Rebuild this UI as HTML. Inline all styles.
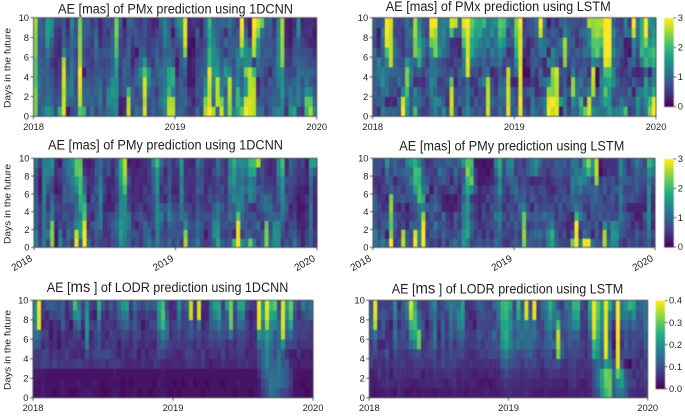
<!DOCTYPE html>
<html lang="en">
<head>
<meta charset="utf-8">
<title>AE heatmaps</title>
<style>
html,body{margin:0;padding:0;background:#fff;width:685px;height:416px;overflow:hidden}
svg{display:block;position:absolute;left:0;top:0}
text{font-family:"Liberation Sans",sans-serif;fill:#1f1f1f}
.ttl{font-size:13.5px}
.big{font-size:16px}
.tick{font-size:9.4px}
.rot{font-size:10px}
</style>
</head>
<body>
<svg id="fig" width="685" height="416" viewBox="0 0 685 416">
<g id="marks" style="filter:blur(0.45px)"></g>
<g id="labels" style="filter:blur(0.25px)">
<text class="ttl" x="58" y="13.5" textLength="235" lengthAdjust="spacingAndGlyphs">AE [mas] of PMx prediction using 1DCNN</text>
<text class="ttl" x="385.7" y="11" textLength="225" lengthAdjust="spacingAndGlyphs">AE [mas] of PMx prediction using LSTM</text>
<text class="ttl" x="48" y="149.5" textLength="235" lengthAdjust="spacingAndGlyphs">AE [mas] of PMy prediction using 1DCNN</text>
<text class="ttl" x="399.3" y="150.7" textLength="225" lengthAdjust="spacingAndGlyphs">AE [mas] of PMy prediction using LSTM</text>
<text class="ttl" x="46.7" y="292" textLength="241.6" lengthAdjust="spacingAndGlyphs">AE [<tspan class="big">ms</tspan> ] of LODR prediction using 1DCNN</text>
<text class="ttl" x="391.7" y="293.3" textLength="231.6" lengthAdjust="spacingAndGlyphs">AE [<tspan class="big">ms</tspan> ] of LODR prediction using LSTM</text>
<text class="tick" transform="translate(10.5,108) rotate(-90)" textLength="80" lengthAdjust="spacingAndGlyphs">Days in the future</text>
<text class="tick" transform="translate(10.5,244) rotate(-90)" textLength="80" lengthAdjust="spacingAndGlyphs">Days in the future</text>
<text class="tick" transform="translate(10.5,390) rotate(-90)" textLength="80" lengthAdjust="spacingAndGlyphs">Days in the future</text>
</g>
</svg>
<script>
const xTickLabels = ["2018", "2019", "2020"];
const yTickLabels = [0, 2, 4, 6, 8, 10];
const masColorbarTicks = [0, 1, 2, 3];
const msColorbarTicks = ["0.0", "0.1", "0.2", "0.3", "0.4"];
// Each inner array is one time column, day 0 (bottom) to day 9 (top).
// PMx and PMy values are tenths of a mas; LODR values are hundredths of a ms.
const pmxCnnValues = [
[24,24,24,22,22,22,24,24,25,26],[8,9,10,11,10,9,8,8,9,10],[12,9,8,8,9,8,7,8,9,8],[16,12,10,10,9,10,12,16,17,17],[14,10,9,8,7,5,8,10,14,15],[7,7,6,5,4,3,4,5,5,7],[19,9,7,6,5,5,3,3,4,6],[28,28,27,28,28,26,14,9,9,8],[2,10,12,10,7,6,8,6,4,3],[6,9,13,13,12,12,10,10,12,14],
[8,8,7,6,8,7,6,9,7,7],[22,27,28,29,30,26,25,25,24,24],[20,10,9,8,2,8,7,8,9,8],[6,9,10,8,7,6,5,7,8,9],[12,10,8,7,6,5,6,5,6,5],[6,8,10,9,8,9,10,12,10,7],[10,12,12,10,8,7,7,4,3,3],[8,6,6,6,7,6,8,6,6,6],[11,14,13,9,8,7,8,7,5,8],[12,14,16,14,10,9,10,9,9,7],
[14,14,15,15,16,18,21,22,24,24],[2,3,6,6,5,6,7,6,8,10],[4,3,8,9,10,9,6,5,4,2],[27,26,20,8,8,9,10,9,8,10],[6,8,9,7,5,3,4,5,7,9],[12,8,6,10,9,7,2,8,8,6],[9,7,9,12,14,10,9,7,6,5],[28,26,28,28,22,16,9,7,8,8],[6,7,10,14,15,7,5,5,5,5],[10,9,8,9,7,5,7,6,4,3],
[8,7,5,8,9,10,9,8,6,3],[9,12,10,10,12,8,6,7,8,10],[13,15,13,12,11,11,10,12,14,13],[27,26,20,18,18,12,9,10,10,9],[27,26,13,19,19,9,8,6,2,6],[9,8,7,6,3,2,5,8,10,13],[10,9,10,9,8,9,8,9,14,16],[8,10,9,7,9,12,24,28,29,29],[5,7,4,2,2,2,1,2,3,3],[5,3,4,2,3,3,2,1,3,5],
[11,6,9,8,6,7,5,7,9,4],[6,8,7,8,9,7,6,5,3,3],[26,24,16,14,10,9,9,7,10,10],[30,28,27,28,29,20,20,17,18,20],[26,10,12,14,16,14,14,13,12,10],[10,27,27,27,16,14,13,10,9,9],[28,24,13,12,10,9,8,6,8,10],[12,11,9,13,16,12,5,10,4,9],[25,26,27,27,14,10,9,8,10,12],[13,10,9,10,8,7,9,9,7,8],
[18,20,20,13,12,14,12,9,8,5],[22,16,10,9,10,13,20,27,29,30],[30,28,16,16,24,14,15,13,10,6],[28,28,27,27,27,14,13,7,2,2],[27,27,27,26,20,5,26,28,29,30],[11,8,4,3,10,11,14,16,24,27],[11,8,9,7,9,9,8,9,11,23],[5,7,7,5,6,8,9,8,8,9],[8,9,7,9,3,7,9,8,9,10],[12,10,9,8,9,8,7,7,5,4],
[14,9,10,12,13,14,13,14,13,13],[13,14,16,15,15,24,25,25,26,26],[4,6,9,8,7,5,5,3,3,3],[15,12,12,8,6,5,4,2,2,2],[18,11,9,10,6,9,8,7,5,4],[6,13,13,12,11,10,8,9,14,15],[5,8,9,7,10,9,7,6,4,3],[20,22,15,12,10,8,7,4,4,4],[26,22,14,8,9,6,6,3,5,4],[14,11,8,6,8,7,4,3,2,3]
];
const pmxLstmValues = [
[7,8,10,9,10,9,11,7,8,9],[4,9,7,10,12,14,5,3,2,7],[13,10,11,15,13,9,9,11,13,9],[10,3,12,11,11,14,21,29,30,30],[9,4,7,8,10,27,27,27,27,28],[10,3,8,6,10,9,11,10,6,7],[8,10,5,11,9,7,9,6,6,6],[30,28,14,8,8,7,5,5,5,7],[15,17,21,24,24,16,8,10,10,11],[8,9,7,12,13,11,7,9,11,7],
[21,12,14,4,7,10,24,24,26,26],[8,11,9,5,10,19,20,18,16,14],[5,8,6,4,6,9,12,13,9,8],[6,5,8,7,9,5,7,9,6,7],[10,11,13,14,11,12,14,23,28,30],[13,14,10,12,12,11,24,24,26,30],[8,13,7,5,9,8,15,13,12,12],[15,9,7,6,8,7,11,13,14,13],[7,4,5,8,6,5,9,9,10,12],[27,28,27,22,8,4,5,4,21,28],
[9,6,7,3,5,7,5,4,9,27],[3,10,7,8,9,6,3,3,9,9],[11,8,8,6,12,13,14,21,25,29],[14,13,12,11,28,29,28,28,29,30],[10,5,8,4,7,12,18,18,21,23],[7,9,4,5,8,10,13,16,17,19],[9,6,7,10,5,8,11,13,18,18],[7,8,6,13,9,10,12,11,13,20],[28,27,27,26,11,7,8,13,11,12],[7,10,8,7,3,9,13,9,15,13],
[6,8,5,4,5,9,10,12,11,15],[11,9,12,10,8,12,14,18,21,22],[8,10,11,9,5,6,11,15,19,21],[29,28,28,27,27,8,4,9,6,12],[8,10,9,3,7,6,5,8,11,9],[10,7,6,3,11,15,19,21,23,24],[29,30,28,28,29,28,29,29,28,30],[8,5,6,3,1,2,4,7,6,5],[5,4,9,3,1,4,3,3,7,7],[13,12,10,5,9,8,9,5,8,8],
[10,7,4,3,5,9,7,8,10,11],[8,10,5,10,10,6,11,13,27,30],[12,12,7,11,4,3,12,11,9,12],[30,29,25,14,5,13,3,9,6,2],[27,30,24,24,25,12,14,6,9,7],[29,28,27,27,28,9,10,8,8,4],[2,16,5,6,8,4,9,12,5,9],[13,12,10,9,8,24,25,26,13,11],[6,4,8,3,5,6,9,9,10,8],[11,15,25,25,13,9,7,10,7,8],
[9,11,12,10,6,7,9,4,5,7],[17,20,9,12,9,6,8,6,10,6],[23,5,10,7,9,8,12,9,11,8],[28,28,13,9,4,7,11,14,13,26],[15,10,26,27,28,14,20,22,24,25],[13,9,7,1,1,13,23,22,26,26],[11,13,12,14,11,10,17,21,24,26],[12,18,22,17,21,29,30,30,30,30],[17,16,16,18,21,28,30,30,30,30],[12,7,9,14,14,10,14,11,14,9],
[13,8,7,9,6,9,10,8,8,6],[14,12,7,6,4,5,8,9,6,5],[21,9,7,6,5,3,3,2,11,13],[5,8,11,5,8,9,2,3,10,5],[7,8,3,9,4,10,12,14,27,30],[14,15,11,6,3,5,7,9,10,11],[9,10,13,5,4,13,20,19,19,19],[12,14,16,17,9,20,18,24,30,30],[24,20,13,9,3,17,19,15,13,15],[30,29,19,14,13,19,21,18,16,14]
];
const pmyCnnValues = [
[14,13,10,9,10,9,8,7,9,12],[6,5,4,5,5,3,2,2,3,5],[13,12,12,12,12,13,14,13,13,13],[6,12,7,8,5,5,8,11,13,13],[24,24,23,13,12,10,7,8,13,15],[2,2,3,5,6,5,2,3,4,4],[14,12,7,5,6,4,3,5,6,2],[7,4,5,8,7,9,9,7,8,10],[9,11,8,7,6,9,8,10,12,12],[5,8,8,6,7,10,11,13,12,15],
[29,27,14,11,10,9,14,17,22,22],[9,16,16,13,18,19,21,21,23,22],[30,30,28,22,20,16,11,9,5,3],[10,6,4,5,6,2,3,4,3,2],[5,5,8,3,6,8,5,4,4,3],[8,9,10,9,7,6,9,7,9,8],[6,8,12,13,12,14,13,13,10,11],[6,4,4,4,3,5,6,5,5,6],[5,4,6,6,3,2,3,3,8,8],[7,8,9,7,3,4,4,3,3,4],
[8,9,11,9,8,5,6,7,9,7],[15,17,16,14,14,14,14,17,18,19],[12,13,14,14,14,15,21,24,26,27],[10,9,12,12,7,6,5,7,5,2],[5,8,5,5,3,4,3,3,3,3],[7,7,3,7,5,4,4,4,3,2],[4,5,6,8,6,3,3,3,4,3],[9,9,10,6,3,5,6,3,3,4],[13,10,7,4,5,6,4,5,6,5],[8,5,7,7,7,7,9,9,10,14],
[13,13,14,14,14,13,15,15,16,21],[9,8,10,13,9,5,4,6,8,11],[7,6,5,7,8,3,6,4,3,6],[11,8,10,14,11,9,8,9,8,8],[6,8,9,9,7,5,3,4,5,4],[9,8,7,8,6,4,3,4,4,7],[5,8,7,11,11,13,14,12,15,16],[26,24,15,11,6,5,5,5,4,4],[7,6,8,6,6,3,4,4,5,3],[9,7,7,5,4,5,4,4,4,3],
[13,10,11,9,8,7,9,7,9,12],[6,8,8,7,6,5,8,8,7,9],[5,2,5,8,5,4,3,4,4,5],[6,6,6,7,5,8,6,4,3,4],[9,14,13,10,9,6,5,5,7,5],[18,16,15,12,12,8,6,7,10,12],[9,6,7,7,9,6,8,5,7,6],[7,5,8,6,5,5,4,5,4,4],[8,7,7,11,9,10,12,14,12,14],[20,3,7,9,9,14,13,16,17,19],
[30,29,29,22,14,13,11,11,11,14],[15,5,9,10,13,13,13,11,13,15],[12,9,8,7,8,7,11,9,12,13],[23,9,6,8,5,14,14,13,18,20],[13,6,8,8,4,11,12,11,18,21],[5,7,11,5,7,6,9,5,6,27],[9,8,4,6,9,10,8,7,8,7],[24,24,22,9,11,11,6,5,4,5],[10,8,7,10,11,9,6,5,3,3],[15,15,14,9,6,5,5,4,4,4],
[15,15,14,9,6,9,9,11,14,14],[5,7,9,12,13,14,15,15,19,21],[8,5,4,7,9,8,5,7,4,3],[6,8,7,4,3,6,7,7,9,10],[12,9,7,6,5,4,5,6,6,8],[7,5,3,2,2,2,3,4,5,5],[3,3,3,3,2,3,3,5,5,7],[7,6,4,5,3,5,2,3,3,2],[9,10,11,11,12,9,10,11,13,17],[4,5,3,3,3,3,4,4,8,17]
];
const pmyLstmValues = [
[12,14,9,8,10,9,6,4,7,7],[9,7,5,6,7,5,3,4,7,8],[13,10,8,7,4,5,6,5,4,6],[8,2,9,7,5,3,6,9,12,16],[30,24,22,23,25,24,9,8,6,8],[5,7,9,8,5,7,6,3,9,10],[7,4,5,6,3,7,8,6,8,7],[27,26,7,5,6,9,5,7,9,6],[9,8,3,4,2,7,8,9,11,14],[7,6,10,5,6,8,9,13,10,16],
[30,28,9,7,8,9,17,20,21,19],[12,13,9,11,12,21,21,19,20,14],[30,30,29,25,13,18,12,10,9,8],[8,5,7,5,9,3,11,8,6,4],[5,8,6,9,8,7,2,5,6,5],[7,9,12,6,11,9,8,6,5,8],[4,6,8,5,8,6,5,7,12,8],[9,10,8,11,3,3,4,9,9,7],[5,7,6,5,3,2,5,7,7,9],[9,6,4,3,2,3,8,3,5,9],
[11,7,8,9,3,2,6,8,11,7],[8,9,5,6,4,5,3,5,6,10],[16,15,13,12,13,9,12,9,8,16],[13,18,16,15,16,15,18,20,25,22],[6,9,10,7,9,5,14,23,19,21],[7,5,7,5,5,4,8,5,5,2],[9,7,4,3,3,3,3,2,2,2],[6,3,5,7,7,3,5,2,2,1],[8,7,6,5,3,7,4,3,1,2],[6,4,7,6,8,5,6,3,3,2],
[11,9,8,12,8,8,9,6,10,14],[9,10,12,13,10,11,15,14,18,19],[5,7,5,8,4,6,7,6,7,7],[4,6,8,5,7,4,5,8,12,13],[7,5,6,9,7,6,9,10,12,14],[9,8,9,7,5,9,11,9,5,6],[6,5,7,9,11,8,7,5,7,7],[24,25,23,23,13,9,8,7,6,5],[9,7,5,9,7,5,6,5,9,9],[8,9,6,8,3,9,7,3,11,12],
[8,10,8,9,9,6,5,4,13,15],[9,11,7,8,6,5,7,4,7,10],[6,8,7,11,7,7,7,5,6,6],[13,14,10,9,7,5,4,3,4,7],[18,19,13,10,7,5,3,5,7,6],[10,9,7,5,5,8,5,7,8,9],[7,5,6,8,9,6,7,7,9,8],[6,8,5,7,5,8,7,5,7,9],[5,3,3,5,7,7,4,5,7,6],[23,7,4,3,9,10,12,13,10,12],
[30,29,30,20,12,9,10,12,12,12],[12,4,6,13,10,8,12,15,11,7],[29,11,8,9,5,7,8,13,14,18],[29,9,8,4,5,6,9,10,20,25],[11,3,6,8,9,9,9,6,14,16],[8,9,9,7,7,10,11,25,27,27],[7,5,4,9,8,8,6,5,1,2],[26,26,15,6,7,5,9,8,3,4],[10,7,9,8,6,7,5,6,5,4],[14,16,15,6,7,9,8,8,4,4],
[14,15,13,7,5,5,9,5,5,5],[6,9,10,12,11,13,12,10,14,14],[4,7,8,9,6,8,6,9,9,8],[8,5,7,7,3,7,6,9,5,4],[6,5,3,5,3,8,7,7,6,8],[8,9,6,2,3,6,9,9,10,13],[5,6,3,3,3,5,6,7,8,9],[7,7,6,9,3,4,5,7,8,6],[10,12,14,14,15,14,15,12,15,20],[5,7,3,5,3,4,6,8,13,17]
];
const lodrCnnValues = [
[2,3,3,7,7,12,15,17,19,18],[2,2,3,6,6,10,14,38,38,39],[3,3,3,8,8,5,8,4,7,7],[2,2,2,7,9,7,8,6,4,11],[2,2,2,6,5,4,2,3,9,12],[1,2,2,9,7,5,6,6,8,11],[2,2,2,6,5,2,3,5,9,9],[3,3,2,7,6,6,7,12,11,13],[2,2,2,6,8,5,4,6,4,5],[1,2,2,6,5,7,5,2,8,10],
[1,2,2,7,4,6,8,11,20,28],[2,3,2,8,5,5,9,15,20,17],[3,2,2,6,4,6,3,5,8,8],[3,2,2,6,10,17,20,21,21,19],[3,2,2,5,6,5,4,9,5,8],[2,3,2,6,8,7,8,7,3,6],[2,2,2,6,9,10,11,14,21,25],[1,1,2,7,8,5,6,5,6,11],[1,2,2,5,10,7,4,7,4,6],[2,2,2,7,8,6,8,6,8,12],
[3,2,3,7,6,7,7,5,7,7],[2,2,2,7,4,3,6,9,12,14],[1,1,2,5,6,7,9,12,16,21],[2,2,2,4,4,6,8,14,17,22],[2,1,2,4,6,5,6,8,5,7],[3,2,2,5,7,8,9,12,11,15],[1,2,2,4,3,5,8,7,6,10],[2,2,2,6,6,4,5,2,6,8],[2,2,2,5,4,6,7,5,8,12],[1,2,2,4,6,5,6,9,7,10],
[2,1,2,7,6,4,7,9,6,12],[2,3,2,6,9,10,12,19,20,22],[3,2,3,5,8,13,18,26,29,27],[2,2,2,4,6,9,14,15,11,8],[1,2,2,4,6,7,5,6,5,4],[2,1,2,5,5,6,7,8,4,6],[1,2,2,5,4,7,9,12,16,20],[2,1,2,4,5,6,6,8,7,9],[2,2,2,6,8,7,9,8,9,12],[2,3,2,7,8,7,11,13,36,36],
[2,1,2,6,6,5,8,7,5,6],[2,2,2,5,5,8,9,15,37,37],[1,2,2,7,8,5,6,4,3,5],[2,1,2,4,4,6,7,6,4,4],[2,2,2,3,6,8,10,12,13,15],[2,2,2,4,6,7,9,13,18,22],[2,2,2,4,5,8,12,17,22,23],[2,1,2,6,9,8,10,11,9,7],[2,2,2,5,4,5,9,10,11,22],[2,2,2,4,6,7,16,30,31,31],
[1,2,2,4,6,5,7,8,7,9],[2,3,2,6,7,8,9,14,17,22],[2,2,2,5,7,8,9,13,19,24],[2,2,2,6,4,6,7,8,6,10],[1,2,2,5,5,4,5,4,3,7],[2,2,2,4,5,6,5,7,5,6],[3,3,5,8,9,14,21,38,39,39],[7,8,11,13,13,14,18,15,22,20],[10,11,14,18,18,20,22,34,38,39],[15,16,15,13,13,15,18,18,24,27],
[13,15,14,12,9,11,11,18,23,30],[11,15,16,16,15,13,14,14,11,8],[8,13,13,10,11,21,36,38,38,38],[8,11,11,11,6,9,12,14,19,22],[5,7,7,5,3,9,15,24,29,31],[2,2,3,4,3,8,9,8,9,12],[2,2,2,3,6,5,7,8,5,7],[2,1,2,4,3,6,8,7,9,17],[1,2,2,4,4,6,7,9,11,12],[2,2,2,4,3,6,6,7,13,15]
];
const lodrLstmValues = [
[3,4,3,8,8,7,10,12,11,10],[2,3,4,5,9,12,16,35,38,39],[3,4,7,6,6,4,8,5,9,7],[3,5,4,5,7,4,10,12,11,8],[4,6,6,7,11,7,5,6,9,7],[3,5,3,5,4,5,5,3,7,8],[2,4,6,7,9,13,16,14,17,19],[5,5,6,6,7,8,8,5,8,4],[3,4,5,7,6,8,10,9,10,12],[2,4,5,5,6,9,7,11,15,17],
[2,3,5,5,7,14,21,26,35,38],[3,3,6,7,9,18,24,28,27,25],[2,4,6,7,10,30,31,15,14,9],[3,4,3,7,6,6,9,11,8,7],[3,5,5,6,8,7,5,3,6,7],[3,4,4,6,9,10,8,8,12,13],[2,5,6,8,9,14,17,15,14,19],[3,5,5,6,5,6,4,5,8,7],[3,4,5,9,9,11,13,13,10,9],[3,3,6,7,7,6,7,6,7,13],
[3,5,6,8,9,11,14,14,16,17],[4,6,5,8,8,6,9,11,13,15],[3,3,4,6,8,10,13,17,18,14],[3,4,5,6,9,11,14,19,21,23],[2,3,5,5,6,6,8,6,7,5],[3,4,4,6,5,7,6,6,4,6],[3,4,3,5,5,7,7,3,5,8],[3,3,4,5,7,9,11,9,9,12],[3,2,4,5,8,6,9,8,10,11],[4,3,3,6,7,9,7,8,8,8],
[3,2,5,5,9,8,10,7,9,7],[3,3,4,5,9,10,14,9,7,14],[3,4,4,6,8,10,9,13,15,16],[4,5,7,12,15,20,22,23,25,26],[5,6,9,13,18,24,25,24,26,27],[5,5,7,10,13,18,18,20,19,24],[4,5,6,9,11,13,11,13,9,8],[4,5,6,8,9,15,14,16,24,26],[4,4,5,6,9,13,16,14,12,10],[5,5,6,9,11,14,14,17,37,38],
[4,5,7,8,13,15,14,13,11,9],[3,4,6,9,9,12,15,15,38,39],[3,5,6,7,6,9,10,8,6,7],[3,4,4,5,8,9,7,8,13,14],[4,4,5,9,9,12,12,16,14,17],[3,5,7,8,11,13,15,18,22,25],[3,4,6,9,6,14,9,14,16,18],[3,4,6,11,32,35,36,28,17,9],[3,4,5,7,12,12,9,11,9,7],[3,3,5,5,7,8,9,12,11,16],
[4,5,6,7,8,11,13,14,15,15],[4,6,7,8,9,9,12,18,22,26],[3,4,5,6,8,10,13,20,24,26],[4,3,6,5,7,8,6,7,6,9],[3,3,4,6,5,6,5,6,8,6],[4,5,5,7,9,9,13,17,21,24],[8,9,10,11,24,27,36,38,39,39],[10,14,15,14,19,22,25,27,29,30],[20,22,24,13,12,14,16,18,20,22],[27,30,31,22,38,39,39,39,38,39],
[30,31,30,19,15,14,11,14,16,25],[12,13,14,10,5,2,3,5,11,13],[15,19,30,38,39,39,40,40,40,40],[15,22,23,10,8,5,7,11,16,16],[12,13,11,3,9,12,11,14,17,20],[6,8,8,1,8,7,8,10,15,26],[5,8,5,7,9,11,9,14,20,24],[4,5,7,4,7,8,9,11,10,12],[4,6,6,8,5,7,9,9,12,14],[6,7,9,7,9,12,13,16,15,15]
];
const viridisStops = ["#440154", "#482475", "#414487", "#355f8d", "#2a788e", "#21918c", "#22a884", "#44bf70", "#7ad151", "#bddf26", "#fde725"];

const svgNs = "http://www.w3.org/2000/svg";
const marksLayer = document.getElementById("marks");
const labelsLayer = document.getElementById("labels");

function hexChannel(hex, i) { return parseInt(hex.substr(1 + i * 2, 2), 16); }
function viridis(t) {
  const c = Math.max(0, Math.min(1, t)) * (viridisStops.length - 1);
  const lo = Math.min(Math.floor(c), viridisStops.length - 2);
  const f = c - lo;
  const rgb = [0, 1, 2].map(function (i) {
    return Math.round(hexChannel(viridisStops[lo], i) * (1 - f) + hexChannel(viridisStops[lo + 1], i) * f);
  });
  return "rgb(" + rgb.join(",") + ")";
}
function node(tag, parent) {
  const el = document.createElementNS(svgNs, tag);
  parent.appendChild(el);
  return el;
}
function tickLine(x1, y1, x2, y2) {
  const el = node("line", marksLayer);
  el.setAttribute("x1", x1);
  el.setAttribute("y1", y1);
  el.setAttribute("x2", x2);
  el.setAttribute("y2", y2);
  el.setAttribute("stroke", "#333");
  el.setAttribute("stroke-width", "0.8");
  
  
}
function drawHeatmap(key, columns, vmax, box, rotated) {
  const x0 = box[0], x1 = box[1], y0 = box[2], y1 = box[3];
  const xScale = function (i) { return x0 + (x1 - x0) * i / columns.length; };
  const yScale = function (d) { return y1 - (y1 - y0) * d / 10; };
  const xTickScale = function (i) { return x0 + (x1 - x0) * i / (xTickLabels.length - 1); };
  columns.forEach(function (col, i) {
    col.forEach(function (v, d) {
      const r = node("rect", marksLayer);
      r.setAttribute("x", xScale(i));
      r.setAttribute("y", yScale(d + 1));
      r.setAttribute("width", xScale(i + 1) - xScale(i) + 0.3);
      r.setAttribute("height", yScale(d) - yScale(d + 1) + 0.3);
      r.setAttribute("fill", viridis(v / vmax));
      
      
    });
  });
  const frame = node("rect", marksLayer);
  frame.setAttribute("x", x0);
  frame.setAttribute("y", y0);
  frame.setAttribute("width", x1 - x0);
  frame.setAttribute("height", y1 - y0);
  frame.setAttribute("fill", "none");
  frame.setAttribute("stroke", "#3a3a3a");
  frame.setAttribute("stroke-width", "0.8");
  
  
  yTickLabels.forEach(function (d) {
    const y = yScale(d);
    tickLine(x0 - 3, y, x0, y);
    const t = node("text", labelsLayer);
    t.setAttribute("class", "tick");
    t.setAttribute("x", x0 - 4.5);
    t.setAttribute("y", y + 3.4);
    t.setAttribute("text-anchor", "end");
    
    
    t.textContent = d;
  });
  xTickLabels.forEach(function (label, i) {
    const x = xTickScale(i);
    tickLine(x, y1, x, y1 + 3);
    const t = node("text", labelsLayer);
    if (rotated) {
      t.setAttribute("class", "rot");
      t.setAttribute("text-anchor", "end");
      t.setAttribute("transform", "translate(" + (x - 1) + "," + (y1 + 13) + ") rotate(-30)");
    } else {
      t.setAttribute("class", "tick");
      t.setAttribute("text-anchor", "middle");
      t.setAttribute("x", x);
      t.setAttribute("y", y1 + 13.5);
    }
    
    
    t.textContent = label;
  });
}
function drawColorbar(ticks, box) {
  const x0 = box[0], x1 = box[1], y0 = box[2], y1 = box[3];
  const steps = 64;
  for (let s = 0; s < steps; s++) {
    const r = node("rect", marksLayer);
    r.setAttribute("x", x0);
    r.setAttribute("y", y1 - (y1 - y0) * (s + 1) / steps);
    r.setAttribute("width", x1 - x0);
    r.setAttribute("height", (y1 - y0) / steps + 0.4);
    r.setAttribute("fill", viridis(s / (steps - 1)));
    
    
  }
  ticks.forEach(function (label, i) {
    const y = y1 - (y1 - y0) * i / (ticks.length - 1);
    tickLine(x1, y, x1 + 2.5, y);
    const t = node("text", labelsLayer);
    t.setAttribute("class", "tick");
    t.setAttribute("x", x1 + 4);
    t.setAttribute("y", y + 3.2);
    
    
    t.textContent = label;
  });
}
drawHeatmap("pmx-1dcnn", pmxCnnValues, 30, [33.5, 316.7, 17.7, 116.3], false);
drawHeatmap("pmx-lstm", pmxLstmValues, 30, [372.7, 656, 17.7, 116.3], false);
drawHeatmap("pmy-1dcnn", pmyCnnValues, 30, [34, 317, 158.3, 247.3], true);
drawHeatmap("pmy-lstm", pmyLstmValues, 30, [373, 655, 158.3, 247.3], true);
drawHeatmap("lodr-1dcnn", lodrCnnValues, 40, [33, 313, 300.3, 397.7], false);
drawHeatmap("lodr-lstm", lodrLstmValues, 40, [369.3, 647.7, 300.3, 397.7], false);
drawColorbar(masColorbarTicks, [664.3, 673.7, 18, 106.5]);
drawColorbar(masColorbarTicks, [664.3, 673.7, 159, 247]);
drawColorbar(msColorbarTicks, [655.7, 665, 300.5, 388.7]);
</script>
</body>
</html>
